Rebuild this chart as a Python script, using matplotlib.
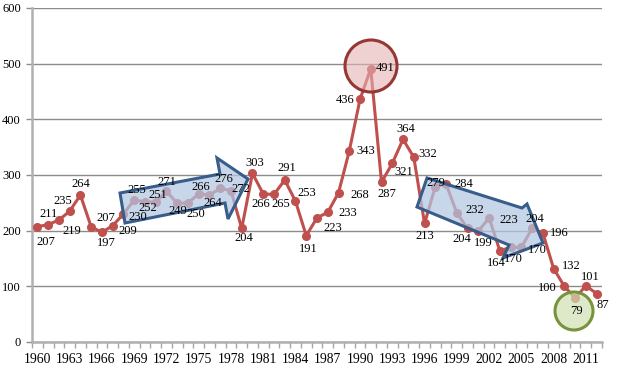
import matplotlib
matplotlib.use("Agg")
import matplotlib.pyplot as plt
from matplotlib.patches import Polygon, Circle
from matplotlib.transforms import IdentityTransform
import numpy as np

years = list(range(1960, 2013))
values = [207, 211, 219, 235, 264, 207, 197, 209, 230, 255,
          252, 251, 271, 249, 250, 266, 264, 276, 272, 204,
          303, 266, 265, 291, 253, 191, 223, 233, 268, 343,
          436, 491, 287, 321, 364, 332, 213, 279, 284, 232,
          204, 199, 223, 164, 170, 170, 204, 196, 132, 100,
          79, 101, 87]
tick_years = list(range(1960, 2012, 3))
y_ticks = [0, 100, 200, 300, 400, 500, 600]

# label offsets in pixels (dx, dy)
label_offsets = [(8, -15), (0, 11), (13, -11), (-7, 10), (0, 11), (15, 9), (4, -11), (15, -5), (14, -3), (3, 10),
                 (3, -6), (2, 7), (0, 9), (1, -8), (8, -11), (2, 7), (3, -8), (4, 9), (10, 2), (2, -10),
                 (2, 10), (-2, -10), (7, -10), (2, 12), (11, 8), (2, -13), (16, -10), (20, -1), (21, -2), (16, 0),
                 (-15, -1), (14, 1), (5, -12), (11, -9), (3, 10), (14, 3), (0, -13), (1, 4), (18, 0), (18, 3),
                 (-6, -11), (5, -12), (20, -2), (-4, -12), (3, -12), (16, -3), (3, 9), (16, 0), (18, 3), (-17, -2),
                 (1, -13), (4, 9), (6, -11)]

W, H = 620, 371
fig = plt.figure(figsize=(W / 100, H / 100), dpi=100)
ax = fig.add_axes([32 / W, 1 - 342 / H, 570 / W, 334 / H])

serif = "Liberation Serif"
ax.plot(years, values, color="#c0504d", lw=2.2, marker="o", ms=5.5, zorder=3)

for x, v, (dx, dy) in zip(years, values, label_offsets):
    ax.annotate(str(v), (x, v), xytext=(dx, dy), textcoords="offset pixels",
                ha="center", va="center", fontsize=9, family=serif, color="black", zorder=7)

ax.set_xlim(1959.5, 2012.5)
ax.set_ylim(0, 600)
ax.set_yticks(y_ticks)
ax.set_xticks(tick_years)
ax.set_xticklabels([str(t) for t in tick_years], family=serif, fontsize=9.8)
ax.set_yticklabels([str(t) for t in y_ticks], family=serif, fontsize=9)
ax.set_xticks(np.arange(1959.5, 2013, 1), minor=True)
ax.tick_params(axis="x", which="major", length=0, pad=8)
ax.tick_params(axis="x", which="minor", length=4, color="#a6a6a6", width=1)
ax.tick_params(axis="y", length=4, color="#8c8c8c", width=1, pad=4)
ax.grid(axis="y", color="#8c8c8c", lw=1)
ax.set_axisbelow(True)
for s in ["top", "right"]:
    ax.spines[s].set_visible(False)
for s in ["left", "bottom"]:
    ax.spines[s].set_color("#b0b0b0")
    ax.spines[s].set_linewidth(1.8)


def px(pts):
    return [(x, H - y) for x, y in pts]


arrow1 = [(120, 193), (220, 174), (217, 158), (248, 179), (228, 219), (225, 203), (125, 223)]
arrow2 = [(427, 178), (522, 208), (527, 204), (543, 243), (503, 258), (509, 245), (417, 207)]
for poly in (arrow1, arrow2):
    ax.add_patch(Polygon(px(poly), closed=True, transform=IdentityTransform(),
                         facecolor=(0.70, 0.78, 0.89, 0.72), edgecolor="#385d8a", lw=2.2,
                         zorder=5, clip_on=False))

ax.add_patch(Circle((371, H - 66), 26, transform=IdentityTransform(),
                    facecolor=(0.90, 0.70, 0.70, 0.6), edgecolor="#953735", lw=2.2,
                    zorder=5, clip_on=False))
ax.add_patch(Circle((574, H - 311), 19, transform=IdentityTransform(),
                    facecolor=(0.82, 0.88, 0.70, 0.7), edgecolor="#77933c", lw=2.2,
                    zorder=5, clip_on=False))

fig.savefig("out.png", dpi=100)
